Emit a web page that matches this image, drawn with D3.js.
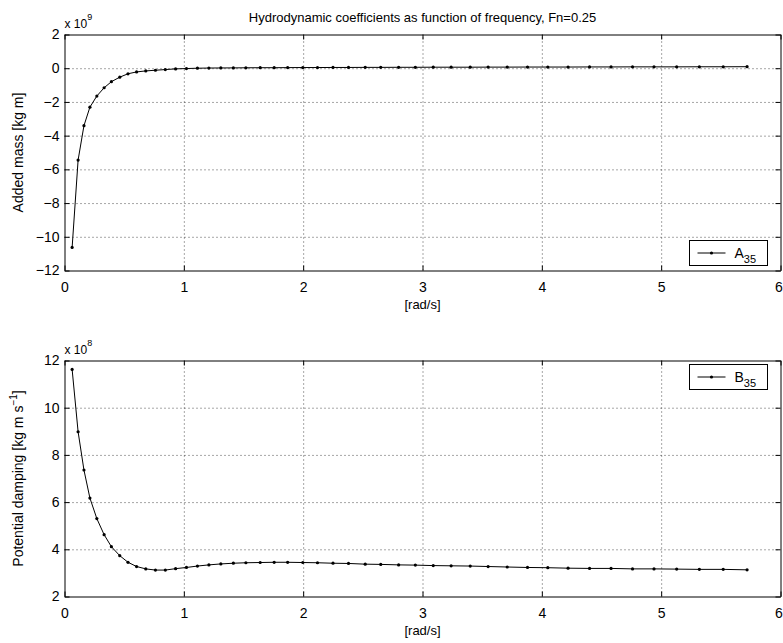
<!DOCTYPE html>
<html>
<head>
<meta charset="utf-8">
<script src="https://cdn.jsdelivr.net/npm/d3@7"></script>
<style>
  body { margin: 0; background: #fff; }
  svg { display: block; font-family: "Liberation Sans", Arial, sans-serif; }
  .grid line { stroke: #000; stroke-dasharray: 1,3; stroke-width: 1; opacity: 0.7; }
  .grid path { display: none; }
  .ax path { stroke: #000; stroke-width: 1; }
  .ax line { stroke: #000; }
  .ax text { font-size: 14px; fill: #000; }
</style>
</head>
<body>
<div id="chart"></div>
<script>
// frequency [rad/s]
const freq = [0.064, 0.114, 0.163, 0.213, 0.271, 0.332, 0.393, 0.463, 0.532, 0.604,
  0.681, 0.762, 0.845, 0.931, 1.022, 1.114, 1.21, 1.31, 1.415, 1.52,
  1.64, 1.757, 1.87, 1.997, 2.12, 2.25, 2.38, 2.52, 2.65, 2.80,
  2.94, 3.09, 3.24, 3.40, 3.55, 3.71, 3.88, 4.05, 4.22, 4.40,
  4.58, 4.76, 4.94, 5.13, 5.32, 5.52, 5.72];

// A35, x 1e9 kg m
const addedMass = [-10.63, -5.45, -3.41, -2.31, -1.65, -1.16, -0.80, -0.53, -0.33, -0.22,
  -0.16, -0.12, -0.08, -0.04, -0.02, 0.00, 0.01, 0.015, 0.02, 0.025,
  0.03, 0.03, 0.035, 0.04, 0.04, 0.045, 0.045, 0.05, 0.05, 0.055,
  0.055, 0.06, 0.06, 0.06, 0.065, 0.065, 0.07, 0.07, 0.07, 0.075,
  0.075, 0.08, 0.08, 0.08, 0.085, 0.085, 0.09];

// B35, x 1e8 kg m/s
const damping = [11.62, 8.98, 7.36, 6.17, 5.30, 4.62, 4.11, 3.73, 3.45, 3.27,
  3.17, 3.12, 3.12, 3.18, 3.23, 3.29, 3.34, 3.38, 3.41, 3.43,
  3.44, 3.45, 3.45, 3.44, 3.43, 3.41, 3.40, 3.37, 3.36, 3.34,
  3.33, 3.31, 3.30, 3.29, 3.27, 3.25, 3.23, 3.22, 3.20, 3.19,
  3.19, 3.17, 3.17, 3.16, 3.15, 3.15, 3.13];

const xTicks = [0, 1, 2, 3, 4, 5, 6];
const yTicksTop = [-12, -10, -8, -6, -4, -2, 0, 2];
const yTicksBottom = [2, 4, 6, 8, 10, 12];

const width = 783, height = 643;
const left = 64.5, right = 780.5;
const fmt = d3.format("d");

const svg = d3.select("#chart").append("svg")
  .attr("width", width)
  .attr("height", height);

svg.append("text")
  .attr("x", (left + right) / 2)
  .attr("y", 22)
  .attr("text-anchor", "middle")
  .style("font-size", "13px")
  .text("Hydrodynamic coefficients as function of frequency, Fn=0.25");

function panel(opts) {
  const { top, bottom, yDomain, yTicks, values, exp, ylabel, legend, legendPos } = opts;
  const x = d3.scaleLinear().domain([0, 6]).range([left, right]);
  const y = d3.scaleLinear().domain(yDomain).range([bottom, top]);
  const h = bottom - top, w = right - left;

  const g = svg.append("g");

  // dotted grid
  g.append("g").attr("class", "grid")
    .attr("transform", `translate(0,${bottom})`)
    .call(d3.axisBottom(x).tickValues(xTicks.slice(1, -1)).tickSize(-h).tickFormat(""));
  g.append("g").attr("class", "grid")
    .attr("transform", `translate(${left},0)`)
    .call(d3.axisLeft(y).tickValues(yTicks.slice(1, -1)).tickSize(-w).tickFormat(""));

  // box + ticks
  const xb = g.append("g").attr("class", "ax")
    .attr("transform", `translate(0,${bottom})`)
    .call(d3.axisBottom(x).tickValues(xTicks).tickSize(-5).tickPadding(12).tickSizeOuter(0).tickFormat(fmt));
  // last label sits at the window edge
  xb.selectAll(".tick text").filter(d => d === 6).attr("x", -2);
  g.append("g").attr("class", "ax")
    .attr("transform", `translate(0,${top})`)
    .call(d3.axisTop(x).tickValues(xTicks).tickSize(-5).tickFormat("").tickSizeOuter(0));
  g.append("g").attr("class", "ax yl")
    .attr("transform", `translate(${left},0)`)
    .call(d3.axisLeft(y).tickValues(yTicks).tickSize(-5).tickPadding(5).tickSizeOuter(0).tickFormat(fmt));
  g.append("g").attr("class", "ax")
    .attr("transform", `translate(${right},0)`)
    .call(d3.axisRight(y).tickValues(yTicks).tickSize(-5).tickFormat("").tickSizeOuter(0));

  // exponent label
  const ex = g.append("text").attr("x", left).attr("y", top - 7).style("font-size", "12px");
  ex.append("tspan").text("x 10");
  ex.append("tspan").attr("dy", -8).style("font-size", "9px").text(exp);

  // x label
  g.append("text")
    .attr("x", (left + right) / 2)
    .attr("y", bottom + 38)
    .attr("text-anchor", "middle")
    .style("font-size", "13px")
    .text("[rad/s]");

  // y label
  const yl = g.append("text")
    .attr("transform", `translate(23,${(top + bottom) / 2}) rotate(-90)`)
    .attr("text-anchor", "middle")
    .style("font-size", "14px");
  ylabel(yl);

  // curve
  const pts = freq.map((f, i) => [f, values[i]]);
  g.append("path")
    .datum(pts)
    .attr("fill", "none")
    .attr("stroke", "#000")
    .attr("stroke-width", 1)
    .attr("d", d3.line().x(d => x(d[0])).y(d => y(d[1])));
  g.selectAll("circle.pt")
    .data(pts)
    .join("circle")
    .attr("class", "pt")
    .attr("cx", d => x(d[0]))
    .attr("cy", d => y(d[1]))
    .attr("r", 1.6)
    .attr("fill", "#000");

  // legend
  const lx = 689.5, lw = 78, lh = 25;
  const ly = legendPos === "bottom" ? bottom - 5 - lh : top + 4;
  const lg = g.append("g");
  lg.append("rect")
    .attr("x", lx).attr("y", ly).attr("width", lw).attr("height", lh)
    .attr("fill", "#fff").attr("stroke", "#000").attr("stroke-width", 1);
  const my = ly + lh / 2;
  lg.append("line").attr("x1", lx + 8).attr("x2", lx + 36).attr("y1", my).attr("y2", my)
    .attr("stroke", "#000");
  lg.append("circle").attr("cx", lx + 22).attr("cy", my).attr("r", 1.6).attr("fill", "#000");
  const lt = lg.append("text").attr("x", lx + 45).attr("y", my + 5).style("font-size", "14px");
  lt.append("tspan").text(legend);
  lt.append("tspan").attr("dy", 5).style("font-size", "11px").text("35");
}

panel({
  top: 34.5, bottom: 270.5,
  yDomain: [-12, 2], yTicks: yTicksTop,
  values: addedMass, exp: "9",
  ylabel: t => t.text("Added mass [kg m]"),
  legend: "A", legendPos: "bottom"
});

panel({
  top: 360.5, bottom: 596.5,
  yDomain: [2, 12], yTicks: yTicksBottom,
  values: damping, exp: "8",
  ylabel: t => {
    t.append("tspan").text("Potential damping [kg m s");
    t.append("tspan").attr("dy", -6).style("font-size", "10px").text("\u22121");
    t.append("tspan").attr("dy", 6).text("]");
  },
  legend: "B", legendPos: "top"
});
</script>
</body>
</html>
